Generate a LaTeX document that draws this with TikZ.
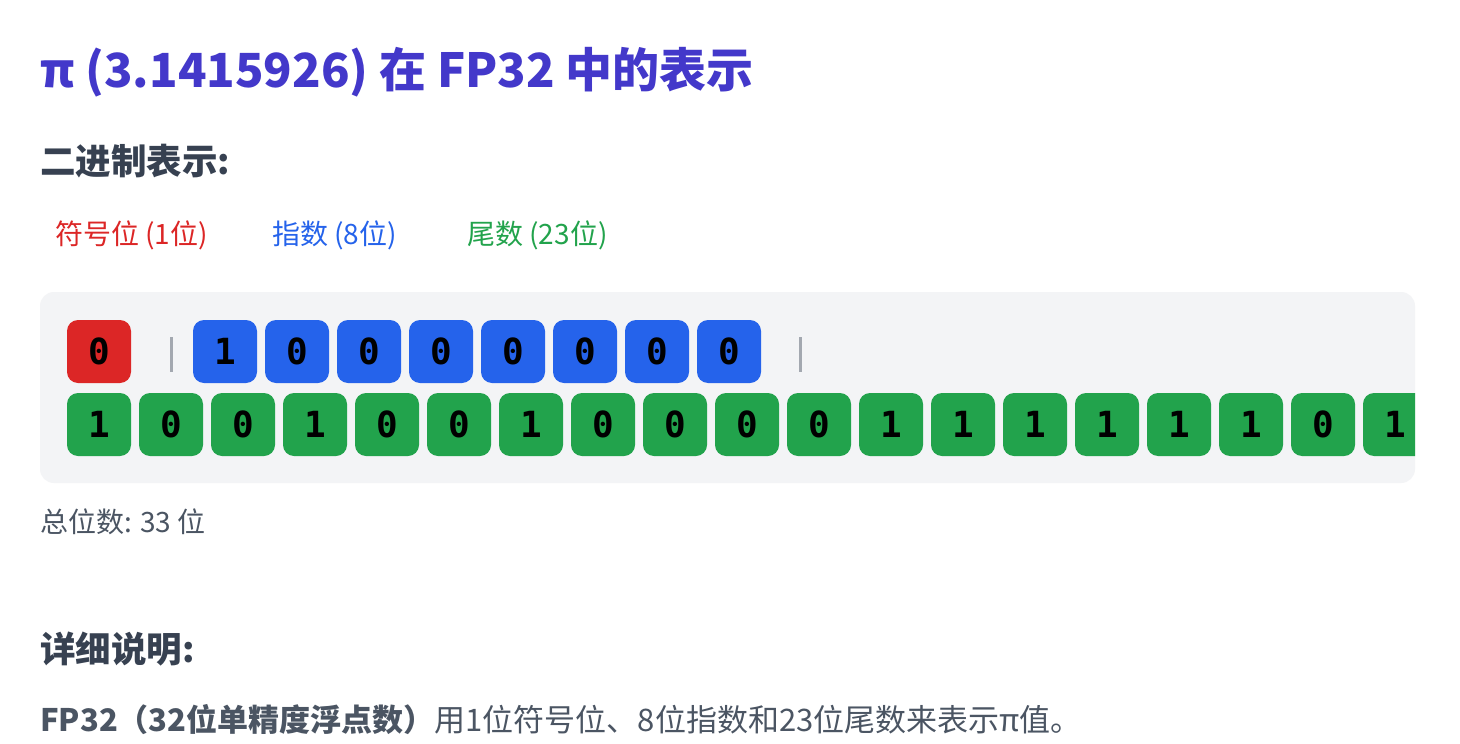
\documentclass[tikz,border=0pt]{standalone}
\usepackage{fontspec}
\usepackage{xcolor}
\usepackage{tikz}
\setmainfont{Noto Sans CJK SC}
\newfontfamily\bitfont{DejaVu Sans Mono}

\definecolor{titleblue}{HTML}{4338CA}
\definecolor{headgray}{HTML}{374151}
\definecolor{textgray}{HTML}{4B5563}
\definecolor{signred}{HTML}{DC2626}
\definecolor{expblue}{HTML}{2563EB}
\definecolor{mantgreen}{HTML}{22A34C}
\definecolor{panelgray}{HTML}{F3F4F6}
\definecolor{sepgray}{HTML}{A3A8B0}

\tikzset{
  bitbox/.style={draw=none, rounded corners=11pt, minimum width=64pt, minimum height=63pt,
    inner sep=0pt, text=black, font=\bitfont\bfseries\fontsize{36}{40}\selectfont},
  sepline/.style={sepgray, line width=3pt},
  txt/.style={draw=none, inner sep=0pt, anchor=base west}
}

\begin{document}
\begin{tikzpicture}[x=1pt, y=-1pt]
             \useasboundingbox[fill=white] (0,0) rectangle (1460,744);

             \node[txt, text=titleblue, font=\bfseries\fontsize{47}{56}\selectfont] (title) at (40, 87) {π (3.1415926) 在 FP32 中的表示};
             \node[txt, text=headgray, font=\bfseries\fontsize{35.5}{40}\selectfont] (binhead) at (40, 174) {二进制表示:};

             \node[txt, text=signred, font=\fontsize{28}{32}\selectfont] (signkey) at (55, 244) {符号位 (1位)};
             \node[txt, text=expblue, font=\fontsize{28}{32}\selectfont] (expkey) at (272, 244) {指数 (8位)};
             \node[txt, text=mantgreen, font=\fontsize{28}{32}\selectfont] (mantkey) at (467, 244) {尾数 (23位)};

             % panel
             \fill[panelgray, rounded corners=14pt] (40, 292) rectangle (1415, 483);

             \node[bitbox, fill=signred] (s1) at (99, 351.5) {0};
             \draw[sepline] (171, 337) -- (171, 372);
             \foreach \b [count=\i] in {1,0,0,0,0,0,0,0}
               \node[bitbox, fill=expblue] (e\i) at ({225+(\i-1)*72}, 351.5) {\b};
             \draw[sepline] (800, 337) -- (800, 372);

             \begin{scope}
               \clip[rounded corners=14pt] (40, 292) rectangle (1415, 483);
               \foreach \b [count=\i] in {1,0,0,1,0,0,1,0,0,0,0,1,1,1,1,1,1,0,1}
                 \node[bitbox, fill=mantgreen] (m\i) at ({99+(\i-1)*72}, 424.5) {\b};
             \end{scope}

             \node[txt, text=textgray, font=\fontsize{28}{32}\selectfont] (total) at (40, 532) {总位数: 33 位};

             \node[txt, text=headgray, font=\bfseries\fontsize{35.5}{40}\selectfont] (detailhead) at (40, 662) {详细说明:};
             \node[txt, text=textgray, font=\fontsize{31}{36}\selectfont] (detail) at (40, 731)
               {{\bfseries FP32（32位单精度浮点数）}用1位符号位、8位指数和23位尾数来表示π值。};
\end{tikzpicture}
\end{document}
